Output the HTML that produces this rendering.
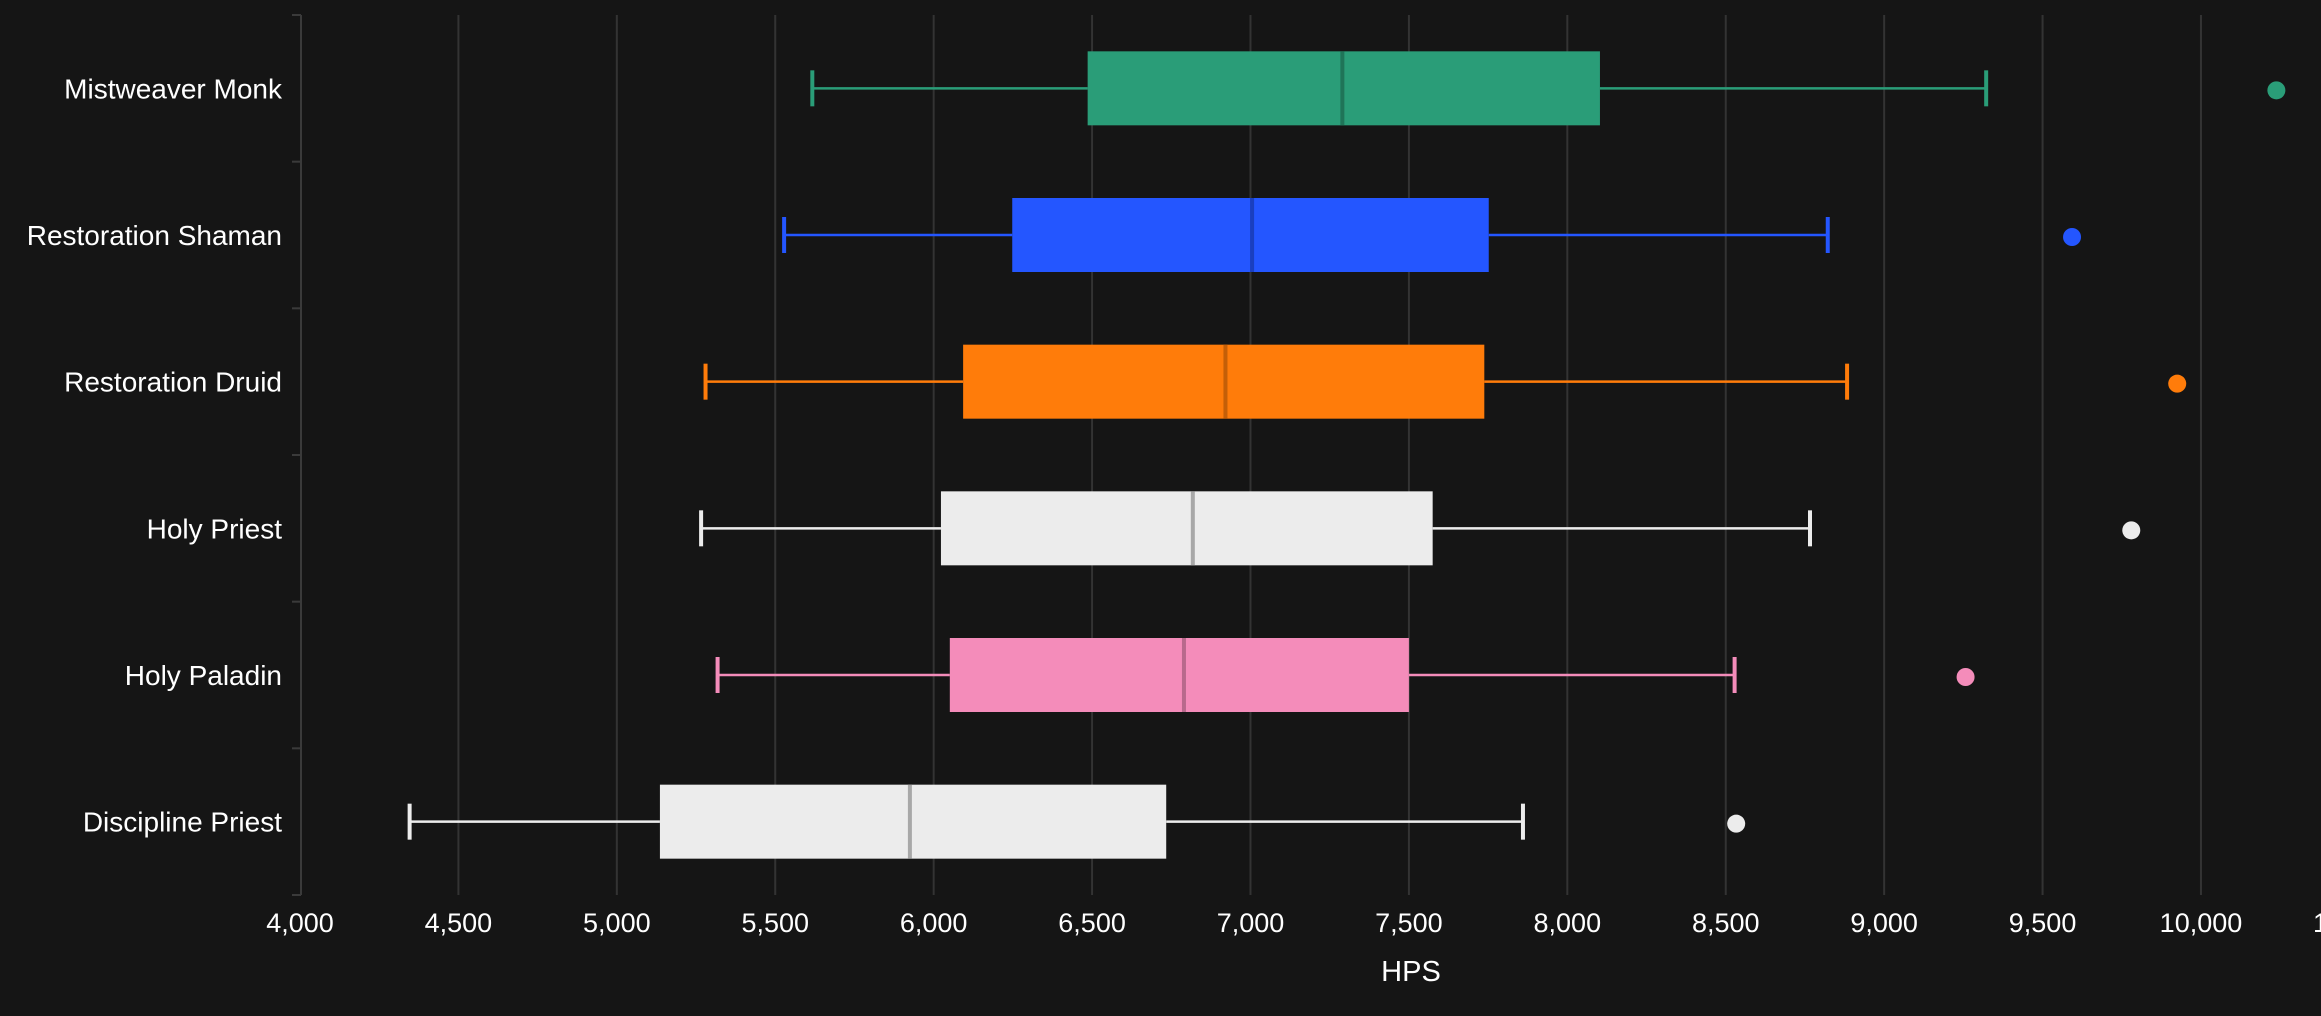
<!DOCTYPE html>
<html><head><meta charset="utf-8"><style>
html,body{margin:0;padding:0;background:#151515;overflow:hidden;}
svg{display:block;font-family:"Liberation Sans",sans-serif;}
</style></head><body>
<svg id="c" width="2321" height="1016" xmlns="http://www.w3.org/2000/svg">
<rect width="2321" height="1016" fill="#151515"/>
<g id="g"></g>
</svg>
<script>
(function(){
const NS="http://www.w3.org/2000/svg",g=document.getElementById('g');
function el(t,a,txt){const e=document.createElementNS(NS,t);for(const k in a)e.setAttribute(k,a[k]);if(txt!==undefined)e.textContent=txt;g.appendChild(e);return e;}
const X=v=>300+(v-4000)*0.31683;
const T0=15,B0=895,bh=(B0-T0)/6;
for(let v=4500;v<=10000;v+=500) el('line',{x1:X(v),x2:X(v),y1:T0,y2:B0,stroke:'#333',"stroke-width":2});
el('line',{x1:301,x2:301,y1:T0,y2:B0,stroke:'#3a3a3a',"stroke-width":2});
for(let i=0;i<=6;i++) el('line',{x1:292,x2:301,y1:T0+i*bh,y2:T0+i*bh,stroke:'#3a3a3a',"stroke-width":2});
for(let v=4000;v<=10000;v+=500) el('text',{x:X(v),y:932,fill:'#fff',"font-size":27,"text-anchor":"middle"},v.toLocaleString('en-US'));
el('text',{x:2313,y:932,fill:'#fff',"font-size":27,"text-anchor":"start"},'10,500');
el('text',{x:1411,y:981,fill:'#fff',"font-size":29,"text-anchor":"middle"},'HPS');
const d=[
["Mistweaver Monk",5617,6486,7290,8103,9322,10238,"#2a9d78","#1f7458"],
["Restoration Shaman",5528,6248,7005,7752,8822,9593,"#2456ff","#1a3fbf"],
["Restoration Druid",5280,6093,6921,7738,8883,9925,"#ff7c0a","#c45f08"],
["Holy Priest",5266,6023,6818,7575,8766,9780,"#ececec","#a8a8a8"],
["Holy Paladin",5318,6051,6790,7500,8528,9257,"#f48cba","#b8698c"],
["Discipline Priest",4346,5136,5925,6734,7860,8533,"#ececec","#a8a8a8"]];
d.forEach((r,i)=>{const cy=T0+bh*(i+0.5);const [n,w1,q1,m,q3,w2,o,c,mc]=r;
el('text',{x:282,y:cy+10,fill:'#fff',"font-size":28,"text-anchor":"end"},n);
el('line',{x1:X(w1),x2:X(q1),y1:cy,y2:cy,stroke:c,"stroke-width":2.5});
el('line',{x1:X(q3),x2:X(w2),y1:cy,y2:cy,stroke:c,"stroke-width":2.5});
el('line',{x1:X(w1),x2:X(w1),y1:cy-18,y2:cy+18,stroke:c,"stroke-width":4});
el('line',{x1:X(w2),x2:X(w2),y1:cy-18,y2:cy+18,stroke:c,"stroke-width":4});
el('rect',{x:X(q1),y:cy-37,width:X(q3)-X(q1),height:74,fill:c});
el('line',{x1:X(m),x2:X(m),y1:cy-37,y2:cy+37,stroke:mc,"stroke-width":4});
el('circle',{cx:X(o),cy:cy+2,r:9,fill:c});
});
})();
</script>
</body></html>
